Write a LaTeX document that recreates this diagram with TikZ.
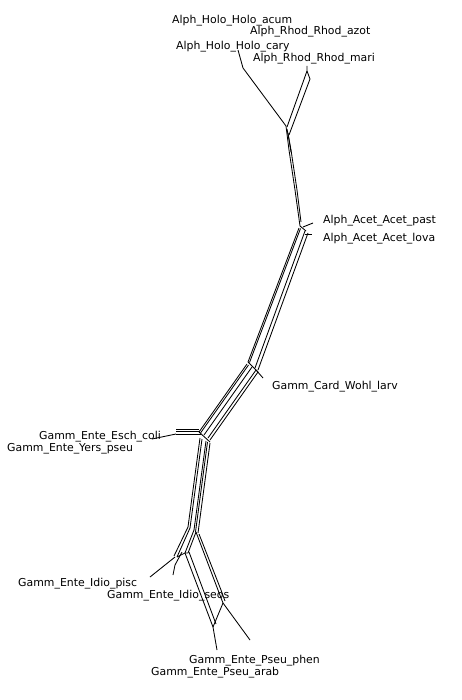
\documentclass[tikz,border=0pt]{standalone}
\usepackage{fontspec}
\newfontfamily\lblfont{DejaVu Sans}
\begin{document}
\begin{tikzpicture}[x=1pt,y=-1pt,
  net/.style={line width=0.85pt, line join=round},
  lbl/.style={font=\lblfont\fontsize{10.9}{12}\selectfont, anchor=base west, inner sep=0pt}]
\path[use as bounding box, fill=white] (0,0) rectangle (462,700);

% ---------- top (Alpha) ----------
\coordinate (hololeaf) at (238,50);
\coordinate (rhodleaf) at (307,66);
\coordinate (topj) at (286,126);
\coordinate (acetj) at (300,226);
\draw[net] (hololeaf) -- (243,68) -- (topj);
\draw[net] (rhodleaf) -- (307,71) -- (287,127);
\draw[net] (307,71) -- (310,79) -- (289,135);
\draw[net] (topj) -- (289,150) -- (295,190) -- (acetj);
\draw[net] (287,129) -- (291,150) -- (297,190) -- (301,222);
\draw[net] (288,133) -- (291,152);
% acetobacter ticks
\draw[net] (303,227) -- (313,223);
\draw[net] (305,234) -- (312,234);
\draw[net] (acetj) -- (306,231);

% ---------- bundle Acet -> Card ----------
\draw[net] (299,228) -- (248,362);
\draw[net] (300.5,228.5) -- (249.5,362.5);
\draw[net] (305,231) -- (255,368);
\draw[net] (308,233) -- (258,370);
\coordinate (cardj) at (256,370);
\draw[net] (cardj) -- (263,378);
\draw[net] (248,362) -- (258,372);

% ---------- bundle Card -> Esch ----------
\draw[net] (247,364) -- (199,432);
\draw[net] (248.5,365) -- (200.5,433);
\draw[net] (252,367) -- (204,435);
\draw[net] (256,370) -- (208,438);
\draw[net] (258,372) -- (210,440);
\draw[net] (199,432) -- (210,442);
% Esch / Yers
\draw[net] (176,429) -- (199,429);
\draw[net] (176,431) -- (200,431);
\draw[net] (176,434) -- (201,434);
\draw[net] (152,439) -- (176,434);

% ---------- bundle Esch -> lower junction ----------
\draw[net] (200,438) -- (188,527);
\draw[net] (202,439) -- (190,528);
\draw[net] (206,441) -- (194,530);
\draw[net] (207.5,442) -- (195.5,532);
\draw[net] (210,443) -- (198,533);

% ---------- lower (Idio / Pseu) ----------
\draw[net] (188,527) -- (174,556);
\draw[net] (190,528) -- (177,557);
\draw[net] (194,530) -- (185,553);
\draw[net] (196,532) -- (188,553);
\draw[net] (177,557) -- (185,553) -- (188,553);
% Idio leaves
\draw[net] (175,557) -- (150,577);
\draw[net] (182,552) -- (175,565) -- (173,575);
% Pseu branches
\draw[net] (196,532) -- (218,590) -- (223,603);
\draw[net] (199,534) -- (221,590) -- (225,601);
\draw[net] (185,553) -- (213,627);
\draw[net] (189,552) -- (216,624);
\draw[net] (213,627) -- (223,603);
\draw[net] (213,627) -- (217,650);
\draw[net] (223,603) -- (250,640);

% ---------- labels ----------
\node[lbl] (l1) at (172,24) {Alph\_Holo\_Holo\_acum};
\node[lbl] (l2) at (250,35) {Alph\_Rhod\_Rhod\_azot};
\node[lbl] (l3) at (176,50) {Alph\_Holo\_Holo\_cary};
\node[lbl] (l4) at (253,62) {Alph\_Rhod\_Rhod\_mari};
\node[lbl] (l5) at (323,224) {Alph\_Acet\_Acet\_past};
\node[lbl] (l6) at (323,241) {Alph\_Acet\_Acet\_lova};
\node[lbl] (l7) at (272,389) {Gamm\_Card\_Wohl\_larv};
\node[lbl] (l8) at (39,439) {Gamm\_Ente\_Esch\_coli};
\node[lbl] (l9) at (7,451) {Gamm\_Ente\_Yers\_pseu};
\node[lbl] (l10) at (18,586) {Gamm\_Ente\_Idio\_pisc};
\node[lbl] (l11) at (107,598) {Gamm\_Ente\_Idio\_seos};
\node[lbl] (l12) at (189,663) {Gamm\_Ente\_Pseu\_phen};
\node[lbl] (l13) at (151,675) {Gamm\_Ente\_Pseu\_arab};
\end{tikzpicture}
\end{document}
